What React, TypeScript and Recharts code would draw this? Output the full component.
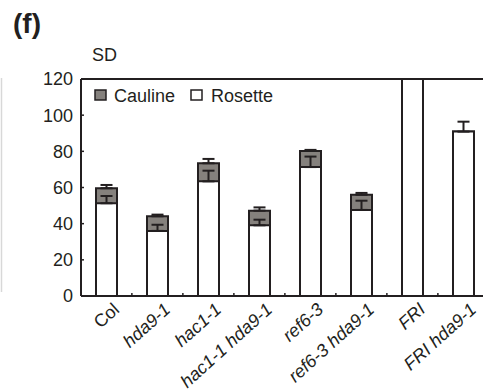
import { BarChart, Bar, XAxis, YAxis, ErrorBar, ReferenceLine, Legend } from "recharts";

const genotypes = ["Col", "hda9-1", "hac1-1", "hac1-1 hda9-1", "ref6-3", "ref6-3 hda9-1", "FRI", "FRI hda9-1"];
// total = rosette + cauline (top of stacked bar)
const totalLeaves = [59.6, 44.1, 73.4, 47.2, 80.2, 56.0, 140, 90.9];
const rosetteLeaves = [51.3, 36.0, 63.4, 39.1, 71.3, 47.6, 140, 90.9];
const totalErr = [1.8, 0.9, 2.4, 1.8, 0.6, 1.0, null, null];
const rosetteErr = [4.0, 3.4, 5.9, 3.1, 5.8, 5.1, null, 5.5];
const yTicks = [0, 20, 40, 60, 80, 100, 120];

const INK = "#231f20";
const GRAY = "#85817d";
const FONT = "'Liberation Sans', Arial, sans-serif";
const BAND = 50.75;

const data = genotypes.map((name, i) => ({
  name,
  total: totalLeaves[i],
  rosette: rosetteLeaves[i],
  totalErr: totalErr[i] == null ? null : [0, totalErr[i]],
  rosetteErr: rosetteErr[i] == null ? null : [0, rosetteErr[i]],
}));

function XTick({ x, y, payload }: any) {
  const ax = x + 14;
  const ay = y + 15;
  const edge = x + BAND / 2;
  return (
    <g>
      <line x1={edge} x2={edge} y1={y} y2={y - 3} stroke={INK} strokeWidth={1.5} />
      <text
        x={ax}
        y={ay}
        transform={`rotate(-42 ${ax} ${ay})`}
        textAnchor="end"
        fontSize={18}
        fontFamily={FONT}
        fontStyle={payload.value === "Col" ? "normal" : "italic"}
        fill={INK}
      >
        {payload.value}
      </text>
    </g>
  );
}

function YTick({ x, y, payload }: any) {
  return (
    <g>
      <line x1={x} x2={x + 3} y1={y} y2={y} stroke={INK} strokeWidth={1.5} />
      <text x={x - 8} y={y} dy="0.36em" textAnchor="end" fontSize={18} fontFamily={FONT} fill={INK}>
        {payload.value}
      </text>
    </g>
  );
}

function LegendBox() {
  return (
    <svg width={200} height={20} style={{ display: "block" }}>
      <rect x={2} y={4} width={11} height={10} fill={GRAY} stroke={INK} strokeWidth={1.5} />
      <text x={21} y={15.5} fontSize={18} fontFamily={FONT} fill={INK}>Cauline</text>
      <rect x={98} y={4} width={11} height={10} fill="#fff" stroke={INK} strokeWidth={1.5} />
      <text x={118} y={15.5} fontSize={18} fontFamily={FONT} fill={INK}>Rosette</text>
    </svg>
  );
}

export default function App() {
  return (
    <div style={{ position: "absolute", left: 0, top: 0, width: 483, height: 390, overflow: "hidden", background: "#fff" }}>
      <BarChart width={500} height={390} data={data} margin={{ top: 79, right: 11, left: 0, bottom: 0 }}>
        <XAxis
          xAxisId="a"
          dataKey="name"
          height={94}
          interval={0}
          tickSize={0}
          tickMargin={0}
          tickLine={false}
          axisLine={{ stroke: INK, strokeWidth: 2 }}
          tick={<XTick />}
        />
        <XAxis xAxisId="b" dataKey="name" hide />
        <YAxis
          width={81}
          domain={[0, 120]}
          ticks={yTicks}
          allowDataOverflow
          tickSize={0}
          tickMargin={0}
          tickLine={false}
          axisLine={{ stroke: INK, strokeWidth: 2 }}
          tick={<YTick />}
        />
        <ReferenceLine xAxisId="a" y={120} stroke={INK} strokeWidth={2} />
        <Bar xAxisId="a" dataKey="total" fill={GRAY} stroke={INK} strokeWidth={2} barSize={21} isAnimationActive={false}>
          <ErrorBar dataKey="totalErr" direction="y" width={6} stroke={INK} strokeWidth={2} />
        </Bar>
        <Bar xAxisId="b" dataKey="rosette" fill="#fff" stroke={INK} strokeWidth={2} barSize={21} isAnimationActive={false}>
          <ErrorBar dataKey="rosetteErr" direction="y" width={6} stroke={INK} strokeWidth={2} />
        </Bar>
        <Legend
          layout="horizontal"
          verticalAlign="middle"
          content={() => <LegendBox />}
          wrapperStyle={{ left: 93, top: 86, width: 200 }}
        />
      </BarChart>
      <svg width={483} height={390} style={{ position: "absolute", left: 0, top: 0, pointerEvents: "none" }}>
        <line x1={1.5} x2={1.5} y1={78} y2={292} stroke="#d8d8d8" strokeWidth={1.5} />
        <text x={13} y={33} fontSize={28} fontWeight="bold" fontFamily={FONT} fill={INK}>(f)</text>
        <text x={92} y={61} fontSize={18} fontFamily={FONT} fill={INK}>SD</text>
      </svg>
    </div>
  );
}
